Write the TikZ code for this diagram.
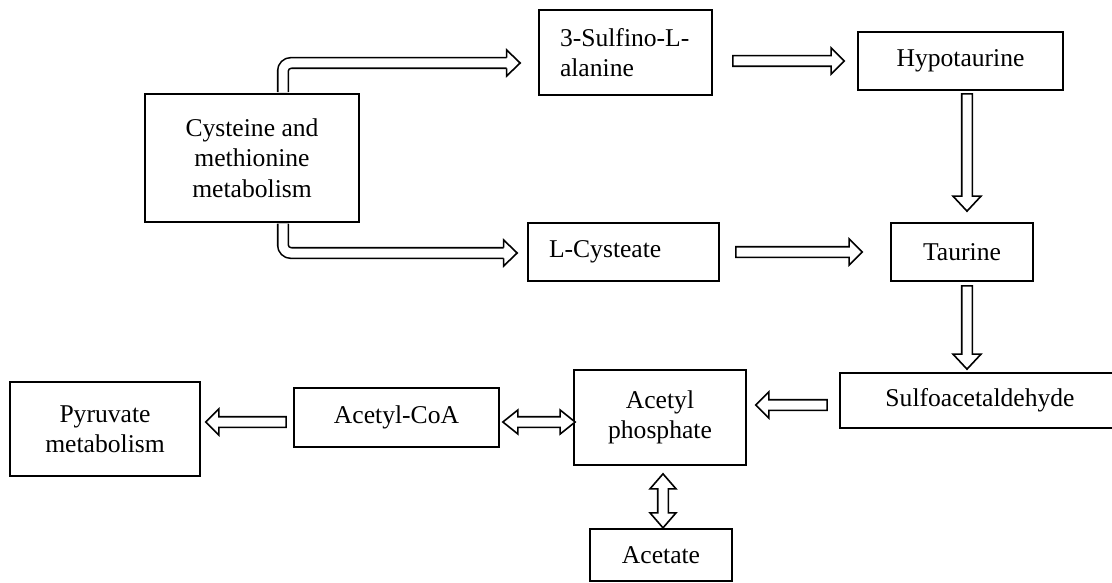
\documentclass[tikz,border=0pt]{standalone}
\usepackage{fontspec}
\setmainfont{Liberation Serif}
\usetikzlibrary{calc}
\tikzset{
  bx/.style={draw, line width=1.7pt, inner sep=0pt, align=center,
    font=\fontsize{25.6}{30.5}\selectfont},
  arr/.style={draw, line width=1.6pt, fill=white, line join=miter},
  dbl/.style={draw, line width=1.6pt, double=white, double distance=9pt, rounded corners=8pt}
}
% horizontal block arrow: tail, tip, direction (1 right, -1 left)
\newcommand{\blockH}[3]{\path[arr] ($(#1)+(0,-5.3)$) -- ($(#2)+({-13*#3},-5.3)$) -- ($(#2)+({-13*#3},-13)$) -- (#2) -- ($(#2)+({-13*#3},13)$) -- ($(#2)+({-13*#3},5.3)$) -- ($(#1)+(0,5.3)$) -- cycle;}
% vertical block arrow: tail, tip, direction (1 down, -1 up)
\newcommand{\blockV}[3]{\path[arr] ($(#1)+(-5.3,0)$) -- ($(#2)+(-5.3,{-15*#3})$) -- ($(#2)+(-14,{-15*#3})$) -- (#2) -- ($(#2)+(14,{-15*#3})$) -- ($(#2)+(5.3,{-15*#3})$) -- ($(#1)+(5.3,0)$) -- cycle;}
% double-headed horizontal: left tip, right tip
\newcommand{\dblH}[2]{\path[arr] (#1) -- ($(#1)+(15,-12)$) -- ($(#1)+(15,-5.3)$) -- ($(#2)+(-15,-5.3)$) -- ($(#2)+(-15,-12)$) -- (#2) -- ($(#2)+(-15,12)$) -- ($(#2)+(-15,5.3)$) -- ($(#1)+(15,5.3)$) -- ($(#1)+(15,12)$) -- cycle;}
% double-headed vertical: top tip, bottom tip
\newcommand{\dblV}[2]{\path[arr] (#1) -- ($(#1)+(-13,15)$) -- ($(#1)+(-5.3,15)$) -- ($(#2)+(-5.3,-15)$) -- ($(#2)+(-13,-15)$) -- (#2) -- ($(#2)+(13,-15)$) -- ($(#2)+(5.3,-15)$) -- ($(#1)+(5.3,15)$) -- ($(#1)+(13,15)$) -- cycle;}
% head only (rightwards) for bent arrows
\newcommand{\headR}[1]{\path[arr] ($(#1)+(-13.5,-5.3)$) -- ($(#1)+(-13.5,-13)$) -- (#1) -- ($(#1)+(-13.5,13)$) -- ($(#1)+(-13.5,5.3)$);}
\begin{document}
\begin{tikzpicture}[x=1pt,y=-1pt]
\useasboundingbox (0,0) rectangle (1112,583);
% nodes
\node[bx, minimum width=214pt, minimum height=128pt] (cys) at (252,158) {Cysteine and\\methionine\\metabolism};
\node[bx, minimum width=173pt, minimum height=85pt, text width=131pt, align=left] (sulf) at (625.5,52.5) {3-Sulfino-L-\\alanine};
\node[bx, minimum width=205pt, minimum height=58pt] (hypo) at (960.5,61) {Hypotaurine};
\node[bx, minimum width=191pt, minimum height=58pt, text width=149pt, align=left] (cyst) at (623.5,252) {L-Cysteate};
\node[bx, minimum width=142pt, minimum height=58pt] (taur) at (962,252) {Taurine};
\node[bx, minimum width=280pt, minimum height=55pt] (sfa) at (980,400.5) {Sulfoacetaldehyde};
\node[bx, minimum width=172pt, minimum height=95pt] (ap) at (660,417.5) {Acetyl\\phosphate};
\node[bx, minimum width=142pt, minimum height=52pt] (acet) at (661,555) {Acetate};
\node[bx, minimum width=205pt, minimum height=59pt] (coa) at (396.5,417.5) {Acetyl-CoA};
\node[bx, minimum width=190pt, minimum height=94pt] (pyr) at (105,429) {Pyruvate\\metabolism};
% coordinates
\coordinate (c1) at ($(cys.north)+(31,-0.9)$);
\coordinate (t1) at ($(sulf.west)+(-18,10.5)$);
\coordinate (c2) at ($(cys.south)+(31,0.9)$);
\coordinate (t2) at ($(cyst.west)+(-10,1)$);
\coordinate (s1) at ($(sulf.east |- hypo.west)+(20,0)$);
\coordinate (e1) at ($(hypo.west)+(-13,0)$);
\coordinate (s2) at ($(hypo.south)+(6.5,3)$);
\coordinate (e2) at ($(taur.north)+(5,-11)$);
\coordinate (s3) at ($(cyst.east |- taur.west)+(16,0)$);
\coordinate (e3) at ($(taur.west)+(-28,0)$);
\coordinate (s4) at ($(taur.south)+(5,4)$);
\coordinate (e4) at ($(taur.south |- sfa.north)+(5,-3)$);
\coordinate (s5) at ($(sfa.west)+(-12,4.5)$);
\coordinate (e5) at ($(ap.east |- s5)+(9,0)$);
\coordinate (d1) at ($(coa.east)+(3,4.5)$);
\coordinate (d2) at ($(ap.west |- d1)+(2,0)$);
\coordinate (s6) at ($(coa.west)+(-7,4.5)$);
\coordinate (e6) at ($(pyr.east |- s6)+(5,0)$);
\coordinate (v1) at ($(ap.south)+(3,8)$);
\coordinate (v2) at ($(acet.north |- v1)+(2,54)$);
% bent arrows from cysteine box
\draw[dbl] (c1) |- ($(t1)+(-13,0)$);
\headR{t1}
\draw[dbl] (c2) |- ($(t2)+(-13,0)$);
\headR{t2}
% straight arrows
\blockH{s1}{e1}{1}
\blockV{s2}{e2}{1}
\blockH{s3}{e3}{1}
\blockV{s4}{e4}{1}
\blockH{s5}{e5}{-1}
\dblH{d1}{d2}
\blockH{s6}{e6}{-1}
\dblV{v1}{v2}
\end{tikzpicture}
\end{document}
